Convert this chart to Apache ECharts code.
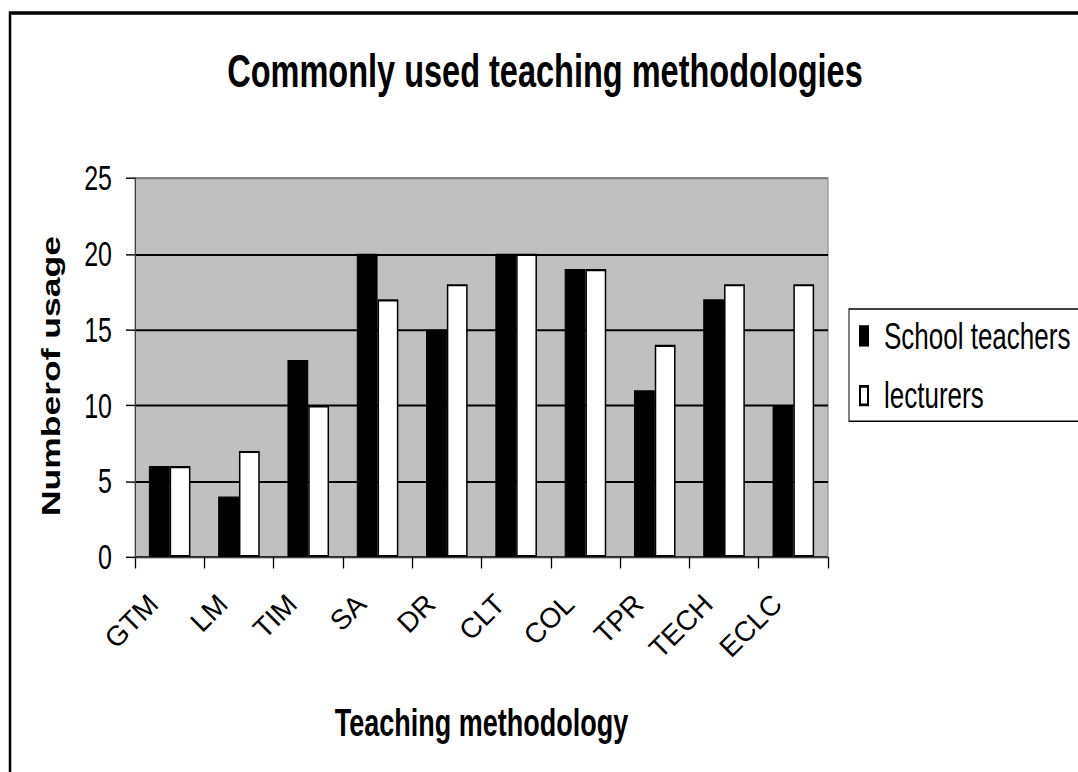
<!DOCTYPE html>
<html>
<head>
<meta charset="utf-8">
<script src="https://cdn.jsdelivr.net/npm/echarts@6/dist/echarts.min.js"></script>
<style>
  html { margin: 0; padding: 0; background: #fff; overflow: hidden; }
  body { margin: 0; padding: 0; background: #fff; width: 1078px; height: 772px; position: relative; }
  #chart { position: absolute; left: 0; top: 0; width: 1078px; height: 544px; transform: scaleY(1.42); transform-origin: 0 0; }
  #labels { position: absolute; left: 0; top: 0; width: 1078px; height: 772px; pointer-events: none; }
</style>
</head>
<body>
<div id="chart"></div>
<div id="labels"></div>
<script>
const categories = ['GTM', 'LM', 'TIM', 'SA', 'DR', 'CLT', 'COL', 'TPR', 'TECH', 'ECLC'];
const schoolTeachers = [6, 4, 13, 20, 15, 20, 19, 11, 17, 10];
const lecturers = [6, 7, 10, 17, 18, 20, 19, 14, 18, 18];
const seriesNames = ['School teachers', 'lecturers'];
const titleText = 'Commonly used teaching methodologies';
const xAxisName = 'Teaching methodology';
const yAxisName = 'Numberof usage';
const yMin = 0, yMax = 25, yInterval = 5;

const FONT = '"Liberation Sans", Arial, sans-serif';

// Main chart (drawn in a vertically stretched frame, like the reference)
const chart = echarts.init(document.getElementById('chart'), null, { renderer: 'svg' });
chart.setOption({
  animation: false,
  backgroundColor: 'transparent',
  title: {
    text: titleText,
    left: 545,
    textAlign: 'center',
    top: 33.5,
    padding: 0,
    textStyle: { fontFamily: FONT, fontWeight: 'bold', fontSize: 32.5, color: '#000', lineHeight: 32.5 }
  },
  legend: {
    orient: 'vertical',
    left: 849,
    top: 217.6,
    padding: [6, 40, 5, 10],
    itemGap: 16,
    itemWidth: 8,
    itemHeight: 13,
    icon: 'rect',
    borderColor: '#000',
    borderWidth: 1,
    data: seriesNames,
    textStyle: { fontFamily: FONT, fontSize: 26, lineHeight: 26, color: '#000', padding: [0, 0, 0, 11] }
  },
  grid: {
    left: 135,
    top: 125.4,
    width: 693,
    height: 266.9,
    show: true,
    backgroundColor: '#c0c0c0',
    borderColor: '#808080',
    borderWidth: 1
  },
  xAxis: {
    type: 'category',
    data: categories,
    name: xAxisName,
    nameLocation: 'middle',
    nameGap: 103,
    nameTextStyle: { fontFamily: FONT, fontWeight: 'bold', fontSize: 27, color: '#000', lineHeight: 27 },
    axisLine: { show: true, lineStyle: { color: '#404040', width: 1 } },
    axisTick: { show: true, interval: 0, length: 8, lineStyle: { color: '#000', width: 1.3 } },
    axisLabel: { show: false },
    splitLine: { show: false }
  },
  yAxis: {
    type: 'value',
    min: yMin,
    max: yMax,
    interval: yInterval,
    name: yAxisName,
    nameLocation: 'middle',
    nameGap: 71.5,
    nameTextStyle: { fontFamily: FONT, fontWeight: 'bold', fontSize: 25, color: '#000', lineHeight: 25, padding: [0, 12, 0, 0] },
    axisLine: { show: true, lineStyle: { color: '#404040', width: 1 } },
    axisTick: { show: true, length: 9, lineStyle: { color: '#000', width: 1 } },
    axisLabel: { margin: 23, fontFamily: FONT, fontSize: 25, color: '#000' },
    splitLine: {
      show: true,
      lineStyle: { color: ['#000', '#000', '#000', '#000', '#000', '#808080'], width: 1.4 }
    }
  },
  series: [
    {
      name: seriesNames[0],
      type: 'bar',
      data: schoolTeachers,
      barWidth: '30%',
      barGap: '0%',
      itemStyle: { color: '#000', borderColor: '#000', borderWidth: 1 }
    },
    {
      name: seriesNames[1],
      type: 'bar',
      data: lecturers,
      barWidth: '30%',
      barGap: '0%',
      itemStyle: { color: '#fff', borderColor: '#000', borderWidth: 1.5 }
    }
  ],
  graphic: [
    {
      type: 'polyline',
      z: 100,
      silent: true,
      shape: { points: [[10, 600], [10, 9.2], [1100, 9.2]] },
      style: { stroke: '#000', lineWidth: 2.5, fill: null }
    }
  ]
});

// Category labels, drawn upright at 45 degrees by a matching category axis
const labelChart = echarts.init(document.getElementById('labels'), null, { renderer: 'svg' });
labelChart.setOption({
  animation: false,
  backgroundColor: 'transparent',
  grid: { left: 135, top: 178, width: 693, height: 379 },
  xAxis: {
    type: 'category',
    data: categories,
    axisLine: { show: false },
    axisTick: { show: false },
    splitLine: { show: false },
    axisLabel: {
      interval: 0,
      rotate: 45,
      margin: 26,
      padding: [0, 23, 0, 0],
      fontFamily: FONT,
      fontSize: 28,
      color: '#000'
    }
  },
  yAxis: { type: 'value', min: yMin, max: yMax, show: false }
});
</script>
</body>
</html>
